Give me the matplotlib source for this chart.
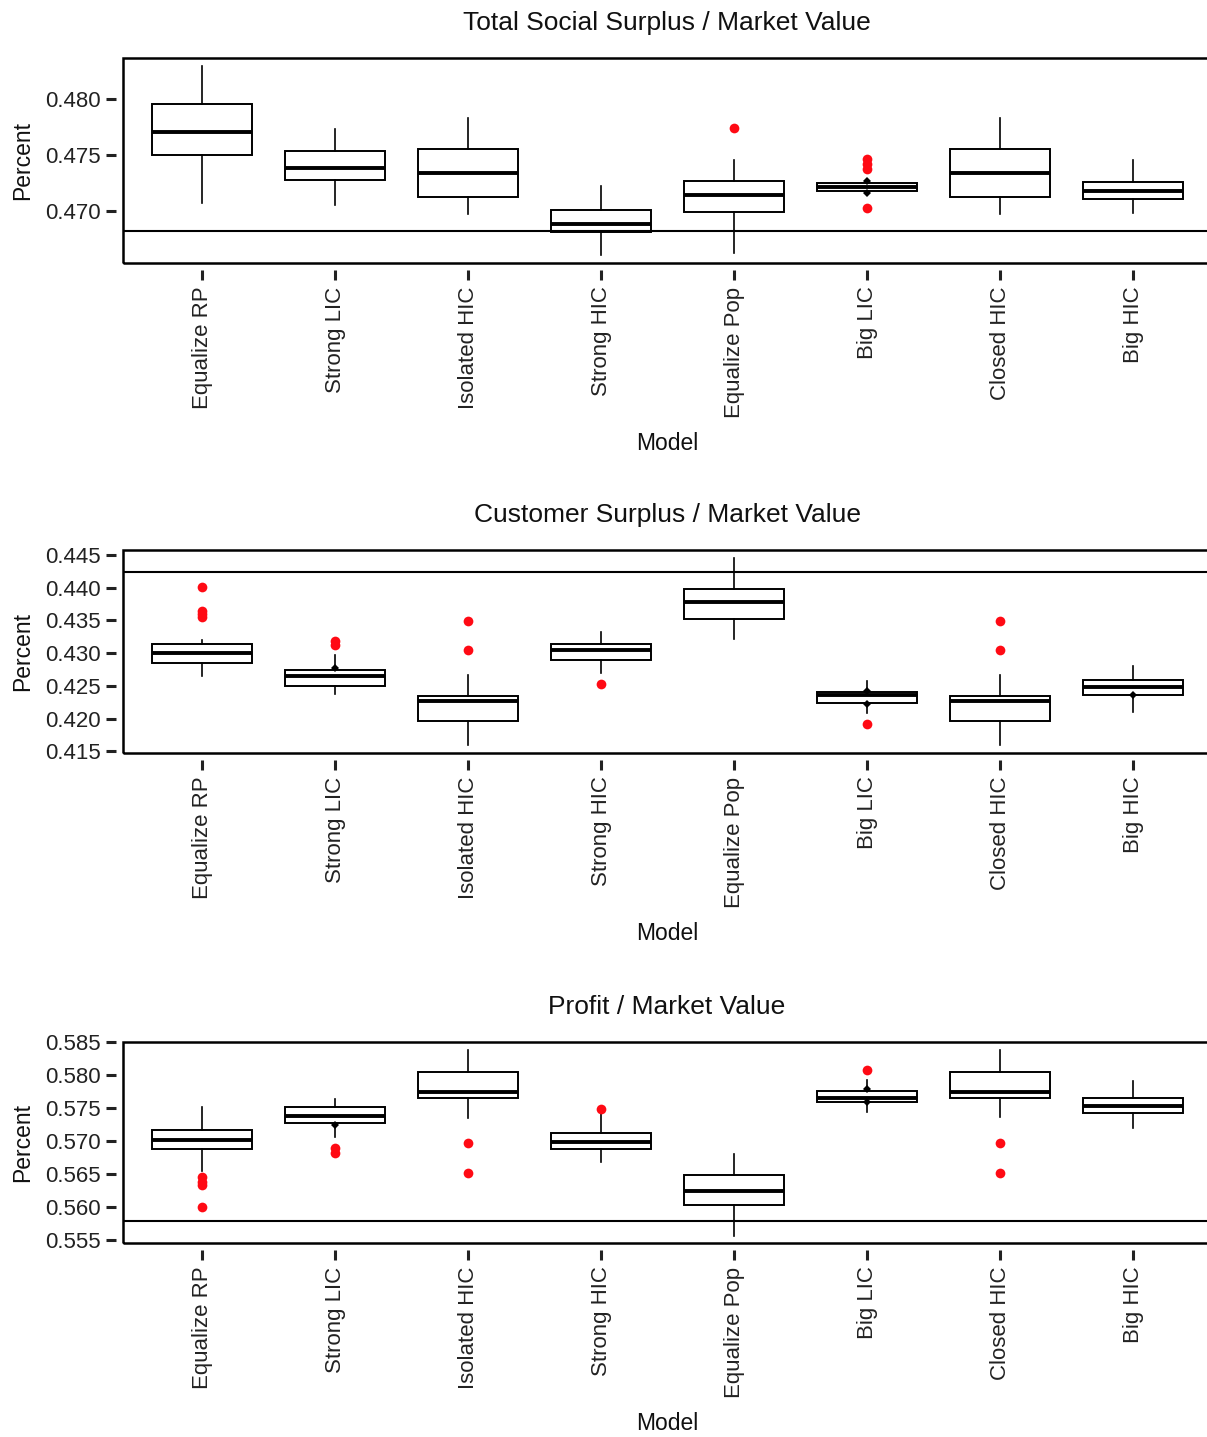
import matplotlib.pyplot as plt
from matplotlib.patches import Rectangle

plt.rcParams['font.family'] = ['Liberation Sans', 'DejaVu Sans']

models = ['Equalize RP', 'Strong LIC', 'Isolated HIC', 'Strong HIC',
          'Equalize Pop', 'Big LIC', 'Closed HIC', 'Big HIC']

titles = ['Total Social Surplus / Market Value',
          'Customer Surplus / Market Value',
          'Profit / Market Value']

# panel 1: total social surplus
tss_lo = [0.47075, 0.47054, 0.46970, 0.46602, 0.46623, 0.47157, 0.46970, 0.46985]
tss_q1 = [0.47500, 0.47280, 0.47120, 0.46813, 0.46991, 0.47175, 0.47120, 0.47105]
tss_med = [0.47708, 0.47386, 0.47340, 0.46880, 0.47145, 0.47211, 0.47340, 0.47175]
tss_q3 = [0.47955, 0.47539, 0.47551, 0.47006, 0.47271, 0.47247, 0.47551, 0.47256]
tss_hi = [0.48295, 0.47732, 0.47828, 0.47226, 0.47452, 0.47271, 0.47828, 0.47452]
tss_out = [[], [], [], [], [0.47747], [0.47467, 0.47422, 0.47376, 0.47030], [], []]
tss_ref = 0.46819

# panel 2: customer surplus
cs_lo = [0.42645, 0.42381, 0.41604, 0.42696, 0.43214, 0.42087, 0.41604, 0.42097]
cs_q1 = [0.42849, 0.42503, 0.41960, 0.42899, 0.43524, 0.42239, 0.41960, 0.42366]
cs_med = [0.43001, 0.42645, 0.42275, 0.43052, 0.43789, 0.42356, 0.42275, 0.42483]
cs_q3 = [0.43138, 0.42747, 0.42351, 0.43138, 0.43977, 0.42407, 0.42351, 0.42595]
cs_hi = [0.43204, 0.42976, 0.42671, 0.43331, 0.44449, 0.42569, 0.42671, 0.42808]
cs_out = [[0.44017, 0.43651, 0.43601, 0.43560], [0.43180, 0.43130],
          [0.43499, 0.43042], [0.42534], [], [0.41919], [0.43499, 0.43042], []]
cs_ref = 0.44236

# panel 3: profit
pr_lo = [0.56550, 0.57068, 0.57344, 0.56690, 0.55570, 0.57445, 0.57359, 0.57194]
pr_q1 = [0.56877, 0.57279, 0.57656, 0.56877, 0.56038, 0.57595, 0.57656, 0.57420]
pr_med = [0.57018, 0.57379, 0.57746, 0.56993, 0.56239, 0.57646, 0.57746, 0.57530]
pr_q3 = [0.57168, 0.57510, 0.58048, 0.57118, 0.56490, 0.57761, 0.58048, 0.57646]
pr_hi = [0.57520, 0.57631, 0.58374, 0.57420, 0.56807, 0.57922, 0.58374, 0.57912]
pr_out = [[0.56465, 0.56390, 0.56340, 0.55998], [0.56892, 0.56827],
          [0.56967, 0.56515], [0.57480], [], [0.58083], [0.56967, 0.56515], []]
pr_ref = 0.55787

# small black whisker-end marks
tss_blk = [[], [], [], [], [], [0.47271, 0.47157], [], []]
cs_blk = [[], [0.42780], [], [], [], [0.42417, 0.42229], [], [0.42366]]
pr_blk = [[], [0.57240], [], [], [], [0.57796, 0.57595], [], []]

panels = [
    (tss_lo, tss_q1, tss_med, tss_q3, tss_hi, tss_out, tss_blk, tss_ref,
     (0.46533, 0.48370), [0.470, 0.475, 0.480]),
    (cs_lo, cs_q1, cs_med, cs_q3, cs_hi, cs_out, cs_blk, cs_ref,
     (0.41477, 0.44576), [0.415, 0.420, 0.425, 0.430, 0.435, 0.440, 0.445]),
    (pr_lo, pr_q1, pr_med, pr_q3, pr_hi, pr_out, pr_blk, pr_ref,
     (0.55460, 0.58500), [0.555, 0.560, 0.565, 0.570, 0.575, 0.580, 0.585]),
]

W, H = 1207, 1437
fig = plt.figure(figsize=(W / 100, H / 100), dpi=100)

# axes boxes in pixels: (top, bottom)
ax_px = [(58, 263), (550, 753), (1042, 1243)]
left_px, right_px = 123, 1211

for i, (lo, q1, med, q3, hi, out, blk, ref, ylim, yticks) in enumerate(panels):
    top, bot = ax_px[i]
    ax = fig.add_axes([left_px / W, 1 - bot / H, (right_px - left_px) / W, (bot - top) / H])

    # offset axis lines first (this resets ticks), frame drawn separately
    for s in ax.spines.values():
        s.set_visible(False)
    ax.spines['left'].set_position(('outward', 5))
    ax.spines['bottom'].set_position(('outward', 5))
    ax.add_patch(Rectangle((0, 0), 1, 1, transform=ax.transAxes, fill=False,
                           edgecolor='black', linewidth=1.8, clip_on=False, zorder=5))

    stats = []
    for j in range(len(models)):
        stats.append(dict(whislo=lo[j], q1=q1[j], med=med[j], q3=q3[j],
                          whishi=hi[j], fliers=[], label=models[j]))
    ax.bxp(stats, positions=range(1, 9), widths=0.75, showcaps=False,
           patch_artist=True,
           boxprops=dict(facecolor='white', edgecolor='black', linewidth=1.4),
           medianprops=dict(color='black', linewidth=2.8),
           whiskerprops=dict(color='black', linewidth=1.2),
           manage_ticks=False)

    for j in range(len(models)):
        if out[j]:
            ax.plot([j + 1] * len(out[j]), out[j], 'o', color='#ff0a14',
                    markersize=7, markeredgewidth=0, zorder=4)
        if blk[j]:
            ax.plot([j + 1] * len(blk[j]), blk[j], 'D', color='black',
                    markersize=4, markeredgewidth=0, zorder=4)

    ax.axhline(ref, color='black', linewidth=1.5, zorder=3)

    ax.set_xlim(0.406, 8.586)
    ax.set_ylim(*ylim)
    ax.set_yticks(yticks)
    ax.set_yticklabels([f'{v:.3f}' for v in yticks])
    ax.set_xticks(range(1, 9))
    ax.set_xticklabels(models)

    ax.tick_params(direction='out', length=7, width=2.2, color='#222222',
                   labelsize=16, labelcolor='#222222', pad=4)
    ax.tick_params(axis='x', labelrotation=90, pad=5)

    ax.set_title(titles[i], fontsize=19, color='#111111', pad=20)
    ax.set_ylabel('Percent', fontsize=16.5, color='#111111', labelpad=8)
    ax.set_xlabel('Model', fontsize=16.5, color='#111111', labelpad=10)

fig.savefig('out.png', dpi=100, facecolor='white')
